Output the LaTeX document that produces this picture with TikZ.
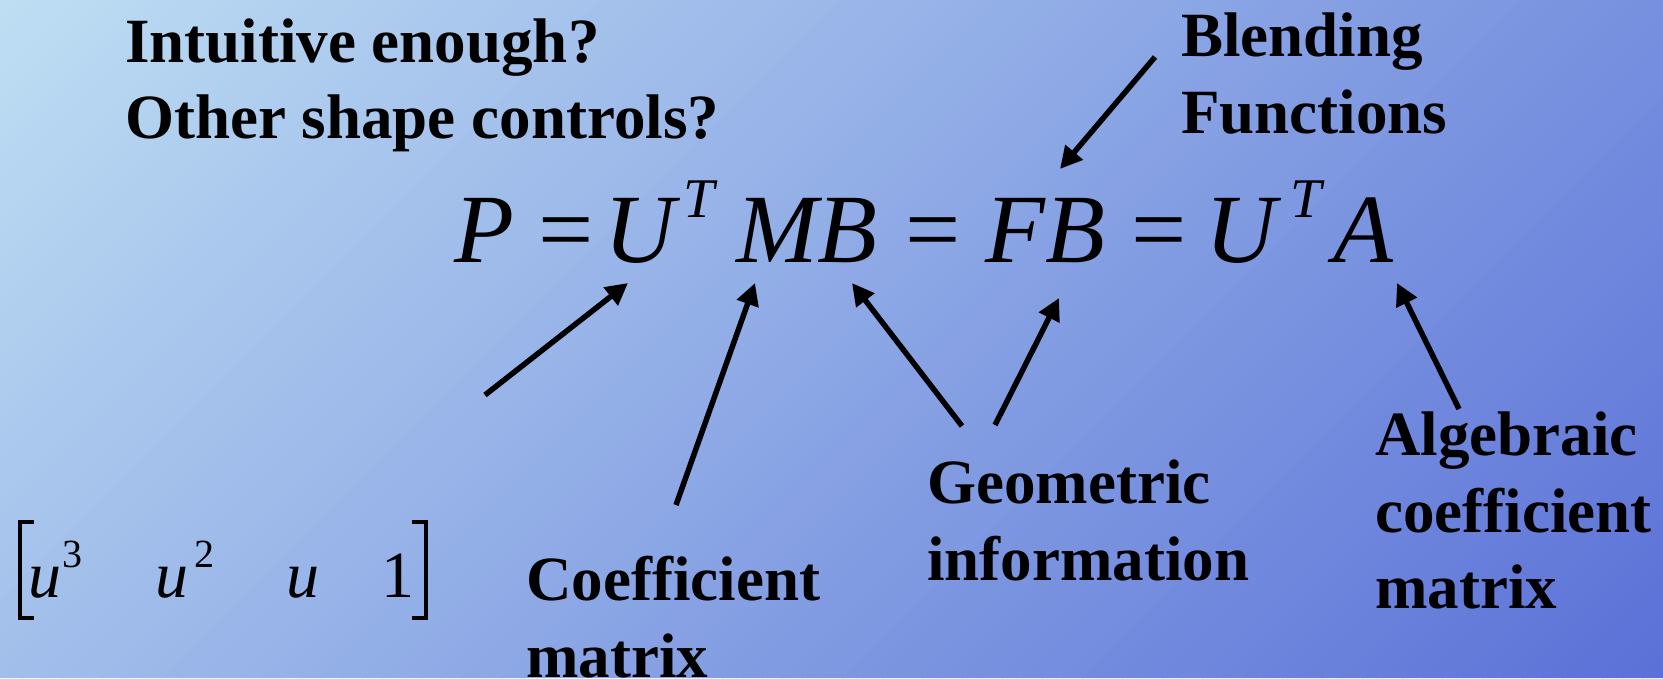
\documentclass[tikz,border=0pt]{standalone}
\usepackage{fontspec}
\setmainfont{Liberation Serif}
\usetikzlibrary{arrows.meta}
\definecolor{bgA}{RGB}{190,222,243}
\definecolor{bgB}{RGB}{90,112,215}
\begin{document}
\begin{tikzpicture}[x=1pt,y=-1pt,
  lbl/.style={font=\fontsize{63}{76}\selectfont\bfseries, anchor=base west, inner sep=0pt},
  eqi/.style={font=\fontsize{98}{110}\selectfont\itshape, anchor=base, inner sep=0pt},
  eqw/.style={eqi, anchor=base west},
  eqo/.style={font=\fontsize{98}{110}\selectfont, anchor=base, inner sep=0pt},
  eqs/.style={font=\fontsize{56}{60}\selectfont\itshape, anchor=base, inner sep=0pt},
  mi/.style={font=\fontsize{66}{70}\selectfont\itshape, anchor=base, inner sep=0pt},
  ms/.style={font=\fontsize{40}{44}\selectfont, anchor=base, inner sep=0pt},
  mo/.style={font=\fontsize{66}{70}\selectfont, anchor=base, inner sep=0pt},
  ptr/.style={line width=5.5pt, -{Triangle[length=22pt,width=22pt]}},
  brk/.style={line width=4.5pt}]
\useasboundingbox (0,0) rectangle (1663,678);
% background gradient (diagonal stripes)
\begin{scope}
\clip (0,0) rectangle (1663,678);
\foreach \k in {0,...,117}{
  \pgfmathtruncatemacro\t{(20*\k+10)/23.41}
  \fill[bgB!\t!bgA] (20*\k,0) -- (20*\k+21,0) -- (20*\k+21-678,678) -- (20*\k-678,678) -- cycle;
}
\end{scope}
% labels
\node[lbl] (lIntuit) at (125,62) {Intuitive enough?};
\node[lbl] (lOther) at (125,138) {Other shape controls?};
\node[lbl] (lBlend) at (1181,56) {Blending};
\node[lbl] (lFunc) at (1181,133) {Functions};
\node[lbl] (lCoef) at (526,600) {Coefficient};
\node[lbl] (lCoefM) at (526,677) {matrix};
\node[lbl] (lGeo) at (927,503) {Geometric};
\node[lbl] (lInfo) at (927,580) {information};
\node[lbl] (lAlg) at (1375,455) {Algebraic};
\node[lbl] (lAlgC) at (1375,532) {coefficient};
\node[lbl] (lAlgM) at (1375,608) {matrix};
% equation
\node[eqi] (eqP) at (484,262) {P};
\node[eqo] (eqE1) at (566,262) {=};
\node[eqi] (eqU1) at (640,262) {U};
\node[eqs] (eqT1) at (699,217) {T};
\node[eqw] (eqMB) at (736,262) {MB};
\node[eqo] (eqE2) at (933,262) {=};
\node[eqw] (eqFB) at (985,262) {FB};
\node[eqo] (eqE3) at (1159,262) {=};
\node[eqi] (eqU2) at (1241,262) {U};
\node[eqs] (eqT2) at (1306,217) {T};
\node[eqi] (eqA) at (1363,262) {A};
% row vector
\node[mi] (mU3) at (45,597) {u};
\node[ms] (mS3) at (72,567) {3};
\node[mi] (mU2) at (172,597) {u};
\node[ms] (mS2) at (204,567) {2};
\node[mi] (mU1) at (303,597) {u};
\node[mo] (mOne) at (398,597) {1};
\draw[brk] (34,522) -- (20,522) -- (20,618) -- (34,618);
\draw[brk] (412,522) -- (426,522) -- (426,618) -- (412,618);
% arrow ends
\coordinate (tBlend) at (1155,57);  \coordinate (hBlend) at (1060,169);
\coordinate (tU) at (485,395);      \coordinate (hU) at (628,283);
\coordinate (tM) at (676,505);      \coordinate (hM) at (755,283);
\coordinate (tB) at (962,426);      \coordinate (hB) at (852,283);
\coordinate (tFB) at (995,425);     \coordinate (hFB) at (1059,298);
\coordinate (tA) at (1459,409);     \coordinate (hA) at (1397,283);
\draw[ptr] (tBlend) -- (hBlend);
\draw[ptr] (tU) -- (hU);
\draw[ptr] (tM) -- (hM);
\draw[ptr] (tB) -- (hB);
\draw[ptr] (tFB) -- (hFB);
\draw[ptr] (tA) -- (hA);
\end{tikzpicture}
\end{document}
